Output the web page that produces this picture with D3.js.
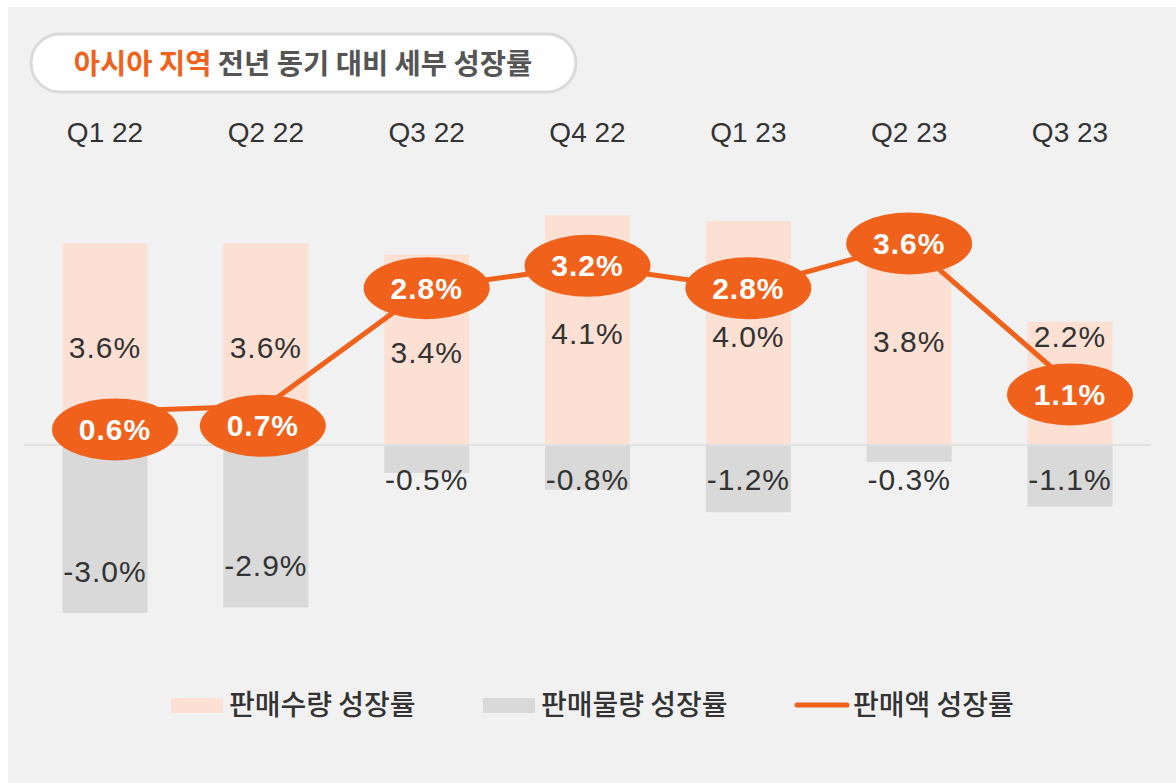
<!DOCTYPE html>
<html>
<head>
<meta charset="utf-8">
<script src="https://cdn.jsdelivr.net/npm/d3@7"></script>
<style>
  body { margin: 0; background: #ffffff; }
  svg { display: block; }
</style>
</head>
<body>
<script>
// chart data
var quarters = ['Q1 22', 'Q2 22', 'Q3 22', 'Q4 22', 'Q1 23', 'Q2 23', 'Q3 23'];
var qtyGrowth = [3.6, 3.6, 3.4, 4.1, 4.0, 3.8, 2.2];      // 판매수량 성장률
var mixGrowth = [-3.0, -2.9, -0.5, -0.8, -1.2, -0.3, -1.1]; // 판매물량 성장률
var salesGrowth = [0.6, 0.7, 2.8, 3.2, 2.8, 3.6, 1.1];    // 판매액 성장률
var seriesNames = ['판매수량 성장률', '판매물량 성장률', '판매액 성장률'];

// small nudges for the bubble labels that sit off the line
var bubbleDx = [10, -3, 0, 0, 0, 0, 0],
    bubbleDy = [18, 20, 0, 0, 0, 0, 11];

var width = 1176,
    height = 783;

var orange = '#f0621b',
    pink = '#fce0d4',
    grey = '#d9d9d9',
    textColor = '#333333';

var svg = d3.select('body')
    .append('svg')
    .attr('width', width)
    .attr('height', height);

// panel
svg.append('rect')
    .attr('x', 8)
    .attr('y', 7)
    .attr('width', width - 8)
    .attr('height', height - 7)
    .attr('fill', '#f1f1f1');

// title pill
svg.append('rect')
    .attr('x', 31)
    .attr('y', 34)
    .attr('width', 545)
    .attr('height', 58)
    .attr('rx', 29)
    .attr('fill', '#ffffff')
    .attr('stroke', '#dadada')
    .attr('stroke-width', 3);

var title = svg.append('text')
    .attr('x', 303)
    .attr('y', 64)
    .attr('dy', '0.35em')
    .attr('text-anchor', 'middle')
    .style('font-family', '"Noto Sans CJK KR", sans-serif')
    .style('font-weight', 700)
    .style('font-size', '28.5px')
    .style('letter-spacing', '0px');
title.append('tspan').attr('fill', orange).text('아시아 지역 ');
title.append('tspan').attr('fill', '#555555').text('전년 동기 대비 세부 성장률');

var x = d3.scalePoint()
    .domain(quarters)
    .range([105, 1070]);

var y = d3.scaleLinear()
    .domain([-3.0, 4.0])
    .range([613, 221]);

var barW = 85;

// category labels on top
svg.selectAll('.cat')
    .data(quarters)
    .enter()
    .append('text')
    .attr('class', 'cat')
    .attr('x', function(d) { return x(d); })
    .attr('y', 132)
    .attr('dy', '0.35em')
    .attr('text-anchor', 'middle')
    .attr('fill', textColor)
    .style('font-family', '"Liberation Sans", Arial, sans-serif')
    .style('font-size', '28px')
    .text(function(d) { return d; });

// positive bars
svg.selectAll('.qty')
    .data(qtyGrowth)
    .enter()
    .append('rect')
    .attr('class', 'qty')
    .attr('x', function(d, i) { return x(quarters[i]) - barW / 2; })
    .attr('y', function(d) { return y(d); })
    .attr('width', barW)
    .attr('height', function(d) { return y(0) - y(d); })
    .attr('fill', pink);

// negative bars
svg.selectAll('.mix')
    .data(mixGrowth)
    .enter()
    .append('rect')
    .attr('class', 'mix')
    .attr('x', function(d, i) { return x(quarters[i]) - barW / 2; })
    .attr('y', y(0))
    .attr('width', barW)
    .attr('height', function(d) { return y(d) - y(0); })
    .attr('fill', grey);

// zero line
svg.append('line')
    .attr('x1', 24)
    .attr('x2', 1151)
    .attr('y1', y(0))
    .attr('y2', y(0))
    .attr('stroke', '#e2e2e2')
    .attr('stroke-width', 2);

var fmt = function(v) { return v.toFixed(1) + '%'; };

// bar value labels
svg.selectAll('.qtyLabel')
    .data(qtyGrowth)
    .enter()
    .append('text')
    .attr('class', 'qtyLabel')
    .attr('x', function(d, i) { return x(quarters[i]); })
    .attr('y', function(d, i) {
        var mid = (y(d) + y(0)) / 2;
        var bubble = y(salesGrowth[i]) + bubbleDy[i];
        return Math.abs(bubble - mid) < 30 ? y(d) + 15 : mid + 3;
    })
    .attr('dy', '0.35em')
    .attr('text-anchor', 'middle')
    .attr('fill', textColor)
    .style('font-family', '"Liberation Sans", Arial, sans-serif')
    .style('font-size', '30px')
    .style('letter-spacing', '1px')
    .text(fmt);

svg.selectAll('.mixLabel')
    .data(mixGrowth)
    .enter()
    .append('text')
    .attr('class', 'mixLabel')
    .attr('x', function(d, i) { return x(quarters[i]); })
    .attr('y', function(d) { return Math.max(y(0) + 34, y(d) - 42); })
    .attr('dy', '0.35em')
    .attr('text-anchor', 'middle')
    .attr('fill', textColor)
    .style('font-family', '"Liberation Sans", Arial, sans-serif')
    .style('font-size', '30px')
    .style('letter-spacing', '1px')
    .text(fmt);

// sales line
var line = d3.line()
    .x(function(d, i) { return x(quarters[i]); })
    .y(function(d) { return y(d); });

svg.append('path')
    .datum(salesGrowth)
    .attr('d', line)
    .attr('fill', 'none')
    .attr('stroke', orange)
    .attr('stroke-width', 5);

var bubbles = svg.selectAll('.bubble')
    .data(salesGrowth)
    .enter()
    .append('g')
    .attr('class', 'bubble')
    .attr('transform', function(d, i) {
        return 'translate(' + (x(quarters[i]) + bubbleDx[i]) + ',' + (y(d) + bubbleDy[i]) + ')';
    });

bubbles.append('ellipse')
    .attr('rx', 63)
    .attr('ry', 31)
    .attr('fill', orange);

bubbles.append('text')
    .attr('text-anchor', 'middle')
    .attr('dy', '0.35em')
    .attr('fill', '#ffffff')
    .style('font-family', '"Liberation Sans", Arial, sans-serif')
    .style('font-weight', 700)
    .style('font-size', '30px')
    .style('letter-spacing', '1px')
    .text(fmt);

// legend
var legendY = 705;
var legend = svg.append('g');
var legendItems = [
    { x: 171, type: 'rect', color: pink, textX: 229 },
    { x: 483, type: 'rect', color: grey, textX: 541 },
    { x: 795, type: 'line', color: orange, textX: 853 }
];

legendItems.forEach(function(item, i) {
    if (item.type === 'rect') {
        legend.append('rect')
            .attr('x', item.x)
            .attr('y', legendY - 7)
            .attr('width', 52)
            .attr('height', 15)
            .attr('fill', item.color);
    } else {
        legend.append('line')
            .attr('x1', item.x + 2)
            .attr('x2', item.x + 52)
            .attr('y1', legendY)
            .attr('y2', legendY)
            .attr('stroke', item.color)
            .attr('stroke-width', 5)
            .attr('stroke-linecap', 'round');
    }
    legend.append('text')
        .attr('x', item.textX)
        .attr('y', legendY)
        .attr('dy', '0.35em')
        .attr('fill', textColor)
        .style('font-family', '"Noto Sans CJK KR", sans-serif')
        .style('font-weight', 500)
        .style('font-size', '28px')
        .text(seriesNames[i]);
});
</script>
</body>
</html>
